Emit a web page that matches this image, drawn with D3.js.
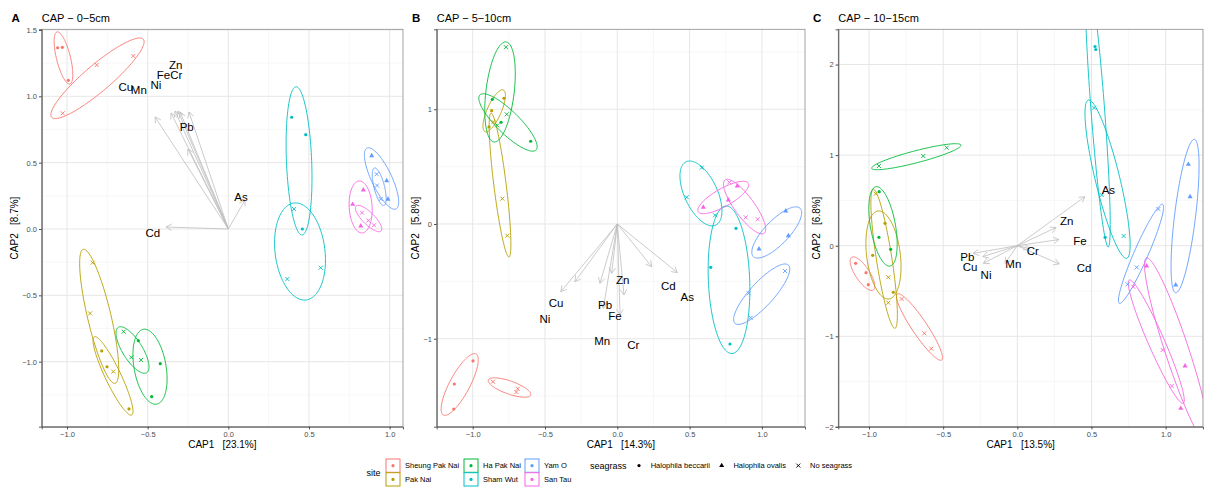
<!DOCTYPE html>
<html>
<head>
<meta charset="utf-8">
<script src="https://cdn.jsdelivr.net/npm/d3@7"></script>
<style>
body { margin: 0; background: #fff; }
text { font-family: "Liberation Sans", Arial, Helvetica, sans-serif; }
</style>
</head>
<body>
<div id="chart"></div>
<script>
// sites and colours (ggplot hue palette)
const sites = ["Sheung Pak Nai", "Pak Nai", "Ha Pak Nai", "Sham Wut", "Yam O", "San Tau"];
const siteColors = ["#F8766D", "#B79F00", "#00BA38", "#00BFC4", "#619CFF", "#F564E3"];
const seagrassTypes = ["Halophila beccarii", "Halophila ovalis", "No seagrass"];
const seagrassKeys = ["beccarii", "ovalis", "none"];

// ---- CAP 0-5cm : [site, seagrass, CAP1, CAP2]
const pointsA = [
  ["Sheung Pak Nai", "beccarii", -1.058, 1.366], ["Sheung Pak Nai", "beccarii", -1.029, 1.369], ["Sheung Pak Nai", "beccarii", -0.992, 1.121],
  ["Sheung Pak Nai", "none", -0.816, 1.236], ["Sheung Pak Nai", "none", -0.589, 1.304], ["Sheung Pak Nai", "none", -1.027, 0.872],
  ["Pak Nai", "none", -0.841, -0.254], ["Pak Nai", "none", -0.857, -0.636], ["Pak Nai", "none", -0.713, -1.075],
  ["Pak Nai", "beccarii", -0.785, -0.919], ["Pak Nai", "beccarii", -0.752, -1.038], ["Pak Nai", "beccarii", -0.616, -1.356],
  ["Ha Pak Nai", "none", -0.649, -0.774], ["Ha Pak Nai", "none", -0.601, -0.967], ["Ha Pak Nai", "none", -0.541, -0.987],
  ["Ha Pak Nai", "beccarii", -0.558, -0.842], ["Ha Pak Nai", "beccarii", -0.422, -1.015], ["Ha Pak Nai", "beccarii", -0.475, -1.264],
  ["Sham Wut", "beccarii", 0.393, 0.842], ["Sham Wut", "beccarii", 0.480, 0.711], ["Sham Wut", "beccarii", 0.459, 0.0],
  ["Sham Wut", "none", 0.407, 0.151], ["Sham Wut", "none", 0.366, -0.377], ["Sham Wut", "none", 0.573, -0.292],
  ["Yam O", "ovalis", 0.889, 0.552], ["Yam O", "ovalis", 0.982, 0.364], ["Yam O", "ovalis", 0.990, 0.224],
  ["Yam O", "none", 0.920, 0.413], ["Yam O", "none", 0.922, 0.328], ["Yam O", "none", 0.945, 0.226],
  ["San Tau", "ovalis", 0.837, 0.294], ["San Tau", "ovalis", 0.771, 0.186], ["San Tau", "ovalis", 0.821, 0.023],
  ["San Tau", "none", 0.829, 0.123], ["San Tau", "none", 0.868, 0.064], ["San Tau", "none", 0.903, 0.028]
];
// ellipses: [site, tip1 x, tip1 y, tip2 x, tip2 y, minor/major ratio]
const ellipsesA = [
  ["Sheung Pak Nai", -1.062, 1.485, -0.982, 1.093, 0.26], ["Sheung Pak Nai", -1.095, 0.842, -0.527, 1.430, 0.22],
  ["Sham Wut", 0.420, 1.072, 0.457, -0.045, 0.17], ["Sham Wut", 0.407, 0.196, 0.482, -0.535, 0.51],
  ["Yam O", 0.860, 0.610, 1.040, 0.151, 0.30], ["Yam O", 0.906, 0.460, 0.965, 0.177, 0.27],
  ["San Tau", 0.811, 0.362, 0.830, -0.030, 0.44], ["San Tau", 0.792, 0.173, 0.947, -0.015, 0.34],
  ["Pak Nai", -0.899, -0.153, -0.702, -1.163, 0.17], ["Pak Nai", -0.831, -0.812, -0.599, -1.402, 0.18],
  ["Ha Pak Nai", -0.682, -0.741, -0.506, -1.083, 0.37], ["Ha Pak Nai", -0.527, -0.756, -0.444, -1.320, 0.42]
];
const arrowsA = [
  ["Cu", -0.454, 0.844], ["Mn", -0.355, 0.874], ["Ni", -0.330, 0.889], ["Fe", -0.312, 0.889], ["Cr", -0.299, 0.882],
  ["Zn", -0.244, 0.882], ["Pb", -0.250, 0.603], ["As", 0.104, 0.219], ["Cd", -0.386, 0.015]
];
const labelsA = [
  ["Cu", -0.636, 1.068], ["Mn", -0.555, 1.047], ["Ni", -0.449, 1.085], ["Fe", -0.402, 1.158], ["Cr", -0.322, 1.158],
  ["Zn", -0.326, 1.236], ["Pb", -0.258, 0.766], ["As", 0.079, 0.243], ["Cd", -0.468, -0.032]
];

// ---- CAP 5-10cm
const pointsB = [
  ["Sheung Pak Nai", "beccarii", -0.998, -1.194], ["Sheung Pak Nai", "beccarii", -1.127, -1.395], ["Sheung Pak Nai", "beccarii", -1.131, -1.613],
  ["Sheung Pak Nai", "none", -0.860, -1.375], ["Sheung Pak Nai", "none", -0.689, -1.436], ["Sheung Pak Nai", "none", -0.698, -1.465],
  ["Pak Nai", "beccarii", -0.784, 1.096], ["Pak Nai", "beccarii", -0.869, 0.988], ["Pak Nai", "beccarii", -0.887, 0.846],
  ["Pak Nai", "none", -0.857, 0.889], ["Pak Nai", "none", -0.795, 0.221], ["Pak Nai", "none", -0.761, -0.102],
  ["Ha Pak Nai", "beccarii", -0.864, 1.087], ["Ha Pak Nai", "beccarii", -0.804, 0.887], ["Ha Pak Nai", "beccarii", -0.599, 0.721],
  ["Ha Pak Nai", "none", -0.770, 1.541], ["Ha Pak Nai", "none", -0.765, 0.956], ["Ha Pak Nai", "none", -0.830, 0.860],
  ["Sham Wut", "none", 0.584, 0.491], ["Sham Wut", "none", 0.480, 0.233], ["Sham Wut", "none", 0.676, 0.076],
  ["Sham Wut", "beccarii", 0.821, -0.038], ["Sham Wut", "beccarii", 0.646, -0.378], ["Sham Wut", "beccarii", 0.779, -1.046],
  ["San Tau", "ovalis", 0.595, 0.146], ["San Tau", "ovalis", 0.830, 0.331], ["San Tau", "ovalis", 0.768, 0.209],
  ["San Tau", "none", 0.775, 0.363], ["San Tau", "none", 0.888, 0.058], ["San Tau", "none", 0.971, 0.041],
  ["Yam O", "ovalis", 1.165, 0.113], ["Yam O", "ovalis", 1.183, -0.102], ["Yam O", "ovalis", 0.980, -0.218],
  ["Yam O", "none", 1.160, -0.410], ["Yam O", "none", 0.909, -0.604], ["Yam O", "none", 0.922, -0.817]
];
const ellipsesB = [
  ["Sheung Pak Nai", -0.977, -1.133, -1.203, -1.665, 0.29], ["Sheung Pak Nai", -0.892, -1.360, -0.599, -1.491, 0.29],
  ["Pak Nai", -0.788, 1.168, -0.915, 0.805, 0.31], ["Pak Nai", -0.873, 0.967, -0.749, -0.288, 0.085],
  ["Ha Pak Nai", -0.769, 1.587, -0.853, 0.715, 0.28], ["Ha Pak Nai", -0.950, 1.125, -0.562, 0.645, 0.29],
  ["Sham Wut", 0.476, 0.542, 0.681, -0.010, 0.47], ["Sham Wut", 0.752, 0.157, 0.793, -1.129, 0.28],
  ["San Tau", 0.560, 0.107, 0.906, 0.355, 0.31], ["San Tau", 0.745, 0.384, 1.015, -0.081, 0.30],
  ["Yam O", 0.941, -0.285, 1.264, 0.137, 0.36], ["Yam O", 0.814, -0.866, 1.183, -0.358, 0.30]
];
const arrowsB = [
  ["Cu", -0.391, -0.590], ["Ni", -0.293, -0.503], ["Mn", -0.120, -0.517], ["Zn", -0.039, -0.430], ["Pb", -0.097, -0.735],
  ["Cr", 0.046, -0.619], ["Fe", 0.019, -0.793], ["Cd", 0.238, -0.372], ["As", 0.415, -0.424]
];
const labelsB = [
  ["Cu", -0.424, -0.686], ["Ni", -0.500, -0.828], ["Pb", -0.085, -0.706], ["Zn", 0.037, -0.488], ["Fe", -0.016, -0.802],
  ["Mn", -0.104, -1.020], ["Cr", 0.111, -1.055], ["Cd", 0.353, -0.541], ["As", 0.484, -0.639]
];

// ---- CAP 10-15cm
const pointsC = [
  ["Sheung Pak Nai", "beccarii", -1.090, -0.194], ["Sheung Pak Nai", "beccarii", -1.020, -0.298], ["Sheung Pak Nai", "beccarii", -1.005, -0.430],
  ["Sheung Pak Nai", "none", -0.780, -0.588], ["Sheung Pak Nai", "none", -0.627, -0.967], ["Sheung Pak Nai", "none", -0.580, -1.137],
  ["Pak Nai", "beccarii", -0.892, 0.247], ["Pak Nai", "beccarii", -0.975, -0.106], ["Pak Nai", "beccarii", -0.836, -0.514],
  ["Pak Nai", "none", -0.955, 0.574], ["Pak Nai", "none", -0.870, -0.349], ["Pak Nai", "none", -0.870, -0.629],
  ["Ha Pak Nai", "beccarii", -0.931, 0.596], ["Ha Pak Nai", "beccarii", -0.933, 0.093], ["Ha Pak Nai", "beccarii", -0.854, -0.040],
  ["Ha Pak Nai", "none", -0.933, 0.880], ["Ha Pak Nai", "none", -0.634, 0.990], ["Ha Pak Nai", "none", -0.476, 1.082],
  ["Sham Wut", "beccarii", 0.524, 2.199], ["Sham Wut", "beccarii", 0.529, 2.166], ["Sham Wut", "beccarii", 0.592, 0.093],
  ["Sham Wut", "none", 0.517, 1.523], ["Sham Wut", "none", 0.569, 0.560], ["Sham Wut", "none", 0.717, 0.107],
  ["Yam O", "none", 0.951, 0.405], ["Yam O", "none", 0.805, -0.239], ["Yam O", "none", 0.744, -0.426],
  ["Yam O", "ovalis", 1.153, 0.898], ["Yam O", "ovalis", 1.165, 0.541], ["Yam O", "ovalis", 1.068, -0.434],
  ["San Tau", "ovalis", 0.872, -0.224], ["San Tau", "ovalis", 1.131, -1.328], ["San Tau", "ovalis", 1.102, -1.795],
  ["San Tau", "none", 0.782, -0.453], ["San Tau", "none", 0.980, -1.151], ["San Tau", "none", 1.041, -1.549]
];
const ellipsesC = [
  ["Sheung Pak Nai", -1.117, -0.128, -0.971, -0.489, 0.36], ["Sheung Pak Nai", -0.809, -0.533, -0.510, -1.262, 0.19],
  ["Pak Nai", -0.939, 0.383, -0.866, -0.588, 0.38], ["Pak Nai", -0.971, 0.623, -0.825, -0.912, 0.11],
  ["Ha Pak Nai", -0.953, 0.651, -0.858, -0.225, 0.31], ["Ha Pak Nai", -0.982, 0.854, -0.380, 1.111, 0.13],
  ["Sham Wut", 0.471, 3.043, 0.613, -0.014, 0.049], ["Sham Wut", 0.479, 1.608, 0.738, -0.139, 0.15],
  ["Yam O", 0.980, 0.457, 0.688, -0.636, 0.13], ["Yam O", 1.194, 1.174, 1.068, -0.519, 0.136],
  ["San Tau", 0.755, -0.379, 1.119, -1.740, 0.12], ["San Tau", 0.871, -0.136, 1.286, -2.200, 0.12]
];
const arrowsC = [
  ["As", 0.456, 0.541], ["Zn", 0.261, 0.200], ["Fe", 0.281, 0.068], ["Cr", 0.080, -0.030], ["Cd", 0.283, -0.202],
  ["Mn", -0.083, -0.194], ["Pb", -0.297, -0.084], ["Cu", -0.229, -0.194], ["Ni", -0.233, -0.121]
];
const labelsC = [
  ["As", 0.614, 0.615], ["Zn", 0.333, 0.276], ["Fe", 0.423, 0.055], ["Cr", 0.104, -0.058], ["Cd", 0.450, -0.250],
  ["Mn", -0.027, -0.205], ["Pb", -0.337, -0.121], ["Cu", -0.319, -0.238], ["Ni", -0.211, -0.323]
];

const W = 1205, H = 488;
const svg = d3.select("#chart").append("svg").attr("width", W).attr("height", H);
const colorOf = d3.scaleOrdinal().domain(sites).range(siteColors);

function drawMarker(g, type, px, py, color) {
  if (type === "beccarii") {
    g.append("circle").attr("cx", px).attr("cy", py).attr("r", 1.6).attr("fill", color);
  } else if (type === "ovalis") {
    g.append("path").attr("transform", `translate(${px},${py})`)
      .attr("d", d3.symbol(d3.symbolTriangle, 11)()).attr("fill", color);
  } else {
    const s = 2;
    g.append("path").attr("d", `M${px - s},${py - s}L${px + s},${py + s}M${px - s},${py + s}L${px + s},${py - s}`)
      .attr("stroke", color).attr("stroke-width", 0.9).attr("fill", "none");
  }
}

function drawPanel(cfg) {
  const top = 29.3, bottom = 426.7;
  const x = d3.scaleLinear().domain(cfg.xDomain).range([cfg.left, cfg.right]);
  const y = d3.scaleLinear().domain(cfg.yDomain).range([bottom, top]);
  const g = svg.append("g");

  // grid
  const xMinor = d3.range(-1.75, 1.8, 0.5).filter(v => v > cfg.xDomain[0] && v < cfg.xDomain[1]);
  const yMinor = cfg.yMinor.filter(v => v > cfg.yDomain[0] && v < cfg.yDomain[1]);
  g.selectAll(".xminor").data(xMinor).enter().append("line")
    .attr("x1", d => x(d)).attr("x2", d => x(d)).attr("y1", top).attr("y2", bottom)
    .attr("stroke", "#F2F2F2").attr("stroke-width", 0.6);
  g.selectAll(".yminor").data(yMinor).enter().append("line")
    .attr("y1", d => y(d)).attr("y2", d => y(d)).attr("x1", cfg.left).attr("x2", cfg.right)
    .attr("stroke", "#F2F2F2").attr("stroke-width", 0.6);
  g.selectAll(".xmajor").data(cfg.xTicks).enter().append("line")
    .attr("x1", d => x(d)).attr("x2", d => x(d)).attr("y1", top).attr("y2", bottom)
    .attr("stroke", "#E6E6E6").attr("stroke-width", 1);
  g.selectAll(".ymajor").data(cfg.yTicks).enter().append("line")
    .attr("y1", d => y(d)).attr("y2", d => y(d)).attr("x1", cfg.left).attr("x2", cfg.right)
    .attr("stroke", "#E6E6E6").attr("stroke-width", 1);

  // clip
  const clipId = "clip" + cfg.letter;
  svg.append("clipPath").attr("id", clipId).append("rect")
    .attr("x", cfg.left).attr("y", top).attr("width", cfg.right - cfg.left).attr("height", bottom - top);
  const plot = g.append("g").attr("clip-path", `url(#${clipId})`);

  // ellipses
  cfg.ellipses.forEach(e => {
    const [site, x1, y1, x2, y2, r] = e;
    const p1 = [x(x1), y(y1)], p2 = [x(x2), y(y2)];
    const c = [(p1[0] + p2[0]) / 2, (p1[1] + p2[1]) / 2];
    const u = [(p2[0] - p1[0]) / 2, (p2[1] - p1[1]) / 2];
    const v = [-u[1] * r, u[0] * r];
    const pts = d3.range(0, 121).map(i => {
      const t = i / 120 * 2 * Math.PI;
      return [c[0] + u[0] * Math.cos(t) + v[0] * Math.sin(t), c[1] + u[1] * Math.cos(t) + v[1] * Math.sin(t)];
    });
    plot.append("path").attr("d", d3.line()(pts)).attr("fill", "none")
      .attr("stroke", colorOf(site)).attr("stroke-width", 0.9);
  });

  // arrows
  const ox = x(0), oy = y(0);
  cfg.arrows.forEach(a => {
    const tx = x(a[1]), ty = y(a[2]);
    const ang = Math.atan2(ty - oy, tx - ox), L = 6.5, sp = Math.PI / 6;
    plot.append("path")
      .attr("d", `M${ox},${oy}L${tx},${ty}` +
        `M${tx - L * Math.cos(ang - sp)},${ty - L * Math.sin(ang - sp)}L${tx},${ty}` +
        `L${tx - L * Math.cos(ang + sp)},${ty - L * Math.sin(ang + sp)}`)
      .attr("fill", "none").attr("stroke", "#BEBEBE").attr("stroke-width", 0.8);
  });

  // points
  cfg.points.forEach(p => drawMarker(plot, p[1], x(p[2]), y(p[3]), colorOf(p[0])));

  // arrow labels
  plot.selectAll(".lab").data(cfg.labels).enter().append("text")
    .attr("x", d => x(d[1])).attr("y", d => y(d[2])).attr("dy", "0.35em")
    .attr("text-anchor", "middle").attr("font-size", 11.5).attr("fill", "#000")
    .text(d => d[0]);

  // border and axes
  g.append("rect").attr("x", cfg.left).attr("y", top).attr("width", cfg.right - cfg.left).attr("height", bottom - top)
    .attr("fill", "none").attr("stroke", "#8C8C8C").attr("stroke-width", 0.8);
  const xAxis = g.append("g").attr("transform", `translate(0,${bottom})`)
    .call(d3.axisBottom(x).tickValues(cfg.xTicks).tickFormat(d3.format(".1f")).tickSize(2.7).tickPadding(2));
  const yAxis = g.append("g").attr("transform", `translate(${cfg.left},0)`)
    .call(d3.axisLeft(y).tickValues(cfg.yTicks).tickFormat(d3.format(cfg.yFmt)).tickSize(2.7).tickPadding(2));
  [xAxis, yAxis].forEach(ax => {
    ax.select(".domain").attr("stroke", "#4D4D4D").attr("stroke-width", 0.9);
    ax.selectAll(".tick line").attr("stroke", "#4D4D4D");
    ax.selectAll(".tick text").attr("fill", "#4D4D4D").attr("font-size", 7.5)
      .style("font-family", "'Liberation Sans', Arial, sans-serif");
  });

  // titles
  g.append("text").attr("x", cfg.letterX).attr("y", 21.5).attr("font-size", 11.5)
    .attr("font-weight", "bold").text(cfg.letter);
  g.append("text").attr("x", cfg.left).attr("y", 21.5).attr("font-size", 11).text(cfg.title);
  g.append("text").attr("x", (cfg.left + cfg.right) / 2).attr("y", 447.5).attr("text-anchor", "middle")
    .attr("font-size", 10).style("white-space", "pre").text(cfg.xTitle);
  g.append("text").attr("transform", `translate(${cfg.left - cfg.yTitleOff},${(top + bottom) / 2}) rotate(-90)`)
    .attr("text-anchor", "middle").attr("font-size", 10).style("white-space", "pre").text(cfg.yTitle);
}

drawPanel({
  letter: "A", letterX: 11.5, title: "CAP \u2212 0\u22125cm", xTitle: "CAP1   [23.1%]", yTitle: "CAP2   [8.7%]",
  left: 41.7, right: 403, xDomain: [-1.157, 1.083], yDomain: [-1.490, 1.505],
  xTicks: [-1, -0.5, 0, 0.5, 1], yTicks: [-1, -0.5, 0, 0.5, 1, 1.5], yFmt: ".1f",
  yMinor: [-1.25, -0.75, -0.25, 0.25, 0.75, 1.25], yTitleOff: 24,
  points: pointsA, ellipses: ellipsesA, arrows: arrowsA, labels: labelsA
});
drawPanel({
  letter: "B", letterX: 412, title: "CAP \u2212 5\u221210cm", xTitle: "CAP1   [14.3%]", yTitle: "CAP2   [5.8%]",
  left: 436.7, right: 805, xDomain: [-1.249, 1.298], yDomain: [-1.767, 1.697],
  xTicks: [-1, -0.5, 0, 0.5, 1], yTicks: [-1, 0, 1], yFmt: "d",
  yMinor: [-1.5, -0.5, 0.5, 1.5], yTitleOff: 18,
  points: pointsB, ellipses: ellipsesB, arrows: arrowsB, labels: labelsB
});
drawPanel({
  letter: "C", letterX: 813, title: "CAP \u2212 10\u221215cm", xTitle: "CAP1   [13.5%]", yTitle: "CAP2   [6.8%]",
  left: 838.3, right: 1203, xDomain: [-1.207, 1.252], yDomain: [-1.998, 2.389],
  xTicks: [-1, -0.5, 0, 0.5, 1], yTicks: [-2, -1, 0, 1, 2], yFmt: "d",
  yMinor: [-1.5, -0.5, 0.5, 1.5], yTitleOff: 18,
  points: pointsC, ellipses: ellipsesC, arrows: arrowsC, labels: labelsC
});

// legend
const leg = svg.append("g");
leg.append("text").attr("x", 366.5).attr("y", 476).attr("font-size", 9).text("site");
const colX = [386, 464, 525];
const rowY = [459, 472.7];
sites.forEach((s, i) => {
  const cx = colX[Math.floor(i / 2)], cy = rowY[i % 2];
  leg.append("rect").attr("x", cx).attr("y", cy).attr("width", 14).attr("height", 13.3)
    .attr("fill", "#fff").attr("stroke", siteColors[i]).attr("stroke-width", 1);
  leg.append("circle").attr("cx", cx + 7).attr("cy", cy + 6.7).attr("r", 1.6).attr("fill", siteColors[i]);
  leg.append("text").attr("x", cx + 19).attr("y", cy + 6.7).attr("dy", "0.35em").attr("font-size", 7.5).text(s);
});
leg.append("text").attr("x", 590).attr("y", 465.6).attr("dy", "0.35em").attr("font-size", 9).text("seagrass");
const symX = [639, 721.7, 798.3];
seagrassTypes.forEach((s, i) => {
  drawMarker(leg, seagrassKeys[i], symX[i], 465.6, "#000");
  leg.append("text").attr("x", symX[i] + 11.7).attr("y", 465.6).attr("dy", "0.35em").attr("font-size", 7.5).text(s);
});
</script>
</body>
</html>
